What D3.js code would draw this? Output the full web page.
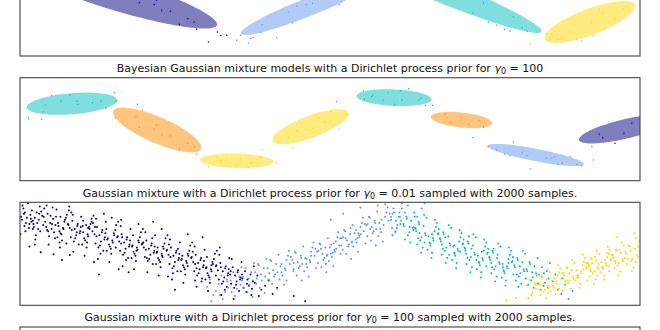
<!DOCTYPE html>
<html><head><meta charset="utf-8">
<script src="https://cdn.jsdelivr.net/npm/d3@7"></script>
<style>body{margin:0;background:#fff}svg{display:block}</style>
</head><body>
<script>
// ---------------- DATA ----------------
const colorCycle = ["navy", "#00bfbf", "cornflowerblue", "gold", "darkorange"];
const xDomain = [-6, 4 * Math.PI - 6];
const yDomain = [-5, 5];

// the noisy sine data set
const dataX = [-5.83,-5.56,-5.53,-5.49,-5.36,-5.17,-4.99,-4.84,-4.83,-4.53,-4.36,-4.26,-4.09,-4.05,-3.62,
 -4.07,-3.65,-3.52,-3.58,-3.28,-3.23,-3.13,-2.95,-2.77,-2.60,-2.47,-2.42,
 -2.18,-2.00,-1.93,-1.81,-1.61,-1.53,-1.37,-1.32,-1.28,-1.12,-1.09,-0.80,
 -0.56,-0.47,-0.39,-0.20,-0.07,0.05,0.18,0.30,0.47,0.62,
 0.42,0.96,0.98,1.13,1.15,1.36,1.46,1.59,1.71,1.74,1.88,2.09,2.13,2.22,2.36,
 2.61,2.65,2.73,2.95,3.09,3.30,3.40,
 3.18,3.49,3.66,3.82,3.93,4.00,4.18,4.28,4.34,4.67,4.78,4.84,4.90,4.99,5.15,5.28,5.38,5.62,
 5.59,5.74,5.81,6.06,6.24,6.40];
const dataY = [1.06,0.96,1.70,2.35,3.25,2.74,3.32,2.74,2.42,2.57,2.74,2.06,3.58,2.74,2.42,
 1.12,1.21,1.86,0.18,-0.01,0.41,-0.56,-0.66,-1.92,-1.37,-1.70,-2.41,
 -3.64,-2.67,-3.04,-2.99,-3.48,-2.99,-3.74,-3.31,-3.21,-2.70,-1.97,-3.23,
 -0.76,-1.80,-0.17,-0.01,0.09,1.12,0.70,1.77,0.00,1.40,
 2.67,3.71,2.93,3.17,3.32,2.81,3.56,2.42,3.71,2.83,3.92,2.83,3.00,2.30,2.33,
 1.45,1.12,0.67,1.06,0.50,0.80,0.18,
 -0.83,-1.70,-2.02,-2.41,-2.57,-1.21,-2.24,-2.57,-3.86,-2.83,-2.83,-2.64,-3.41,-3.31,-2.67,-3.41,-3.54,-2.99,
 -1.70,-0.50,-0.83,-1.37,-0.40,0.57];
// predicted component for each point
const labelsGamma001 = [0,0,0,0,0,0,0,0,0,0,0,0,0,0,0, 0,0,0,0,0,0,0,0,0,0,0,0,
 0,0,0,0,2,2,2,2,2,2,2,2, 2,2,2,2,2,2,2,2,2,2, 2,2,2,2,2,2,2,1,1,1,1,1,1,1,1,
 1,1,1,1,1,1,1, 1,1,1,1,1,1,1,1,3,3,3,3,3,3,3,3,3,3, 3,3,3,3,3,3];
const labelsGamma100 = [1,1,1,1,1,1,1,1,1,1,1,1,1,1,1, 4,4,4,4,4,4,4,4,4,4,4,4,
 3,3,3,3,3,3,3,3,3,3,3,3, 8,8,8,8,8,8,8,8,8,8, 6,6,6,6,6,6,6,6,6,6,6,6,6,6,6,
 9,9,9,9,9,9,9, 2,2,2,2,2,2,2,2,2,2,2,2,2,2,2,2,2,2,2, 5,5,5,5,5,5];

// Gaussian components: mean and conjugate semi-diameters (data units)
const ellComp001 = [0, 1, 2, 3];
const ellMeanX001 = [-4.075, 2.575, -0.203, 5.552];
const ellMeanY001 = [1.02, 1.214, -0.34, -1.699];
const ellP001 = [[2.067,-3.010],[1.911,-3.981],[1.231,2.621],[0.912,1.650]];
const ellQ001 = [[-0.094,-1.485],[0.588,0],[0.476,0],[0.093,-1.184]];

const ellComp100 = [1, 2, 3, 4, 5, 6, 8, 9];
const ellMeanX100 = [-4.946, 4.454, -1.608, -3.219, 6.262, 1.584, -0.112, 2.948];
const ellMeanY100 = [2.476, -2.505, -3.068, -0.078, 0.02, 3.058, 0.233, 0.893];
const ellP100 = [[0.918,0.359],[0.977,-0.903],[0.744,-0.083],[0.888,-1.845],[0.932,1.068],[0.760,-0.160],[0.766,1.379],[0.624,-0.320]];
const ellQ100 = [[0.016,-1.019],[-0.024,-0.592],[0,0.699],[-0.105,-1.155],[0.047,-0.913],[0,0.806],[0.079,-1.0],[-0.016,-0.723]];

// 2000-sample draw (gamma 0.01), representative points, flat [x,y,...]
const samplesNavy = [
-5.98,3.6,-5.81,2.9,-5.93,4.4,-5.77,3.1,-5.89,2.2,-5.96,3.3,-5.84,4.9,-5.79,3.8,-5.91,2.7,-5.86,3.5,-5.99,1.9,-5.76,4.2,-5.88,3.0,-5.82,2.5,-5.95,4.7,-5.78,3.4,-5.92,3.9,
-5.53,2.8,-5.70,3.5,-5.57,4.1,-5.63,2.4,-5.74,3.2,-5.60,4.6,-5.68,1.8,-5.55,3.7,-5.72,2.6,-5.65,3.0,-5.51,4.4,-5.62,3.3,-5.69,1.4,-5.59,2.2,-5.66,4.0,-5.52,3.6,-5.73,2.9,
-5.49,3.1,-5.36,2.4,-5.44,3.9,-5.28,2.8,-5.41,1.7,-5.33,3.4,-5.47,2.6,-5.26,4.3,-5.39,3.0,-5.31,2.1,-5.46,4.7,-5.27,3.6,-5.42,0.9,-5.35,2.9,-5.29,1.5,-5.38,3.7,-5.45,2.3,
-5.03,2.9,-5.20,2.2,-5.07,3.5,-5.13,2.5,-5.24,1.6,-5.10,3.1,-5.18,2.0,-5.05,3.8,-5.22,2.7,-5.15,1.3,-5.01,4.2,-5.12,2.4,-5.19,0.6,-5.09,3.3,-5.16,1.9,-5.02,2.8,-5.23,3.0,
-4.99,2.5,-4.86,1.8,-4.94,3.2,-4.78,2.2,-4.91,1.2,-4.83,2.9,-4.97,1.6,-4.76,3.6,-4.89,2.4,-4.81,0.9,-4.96,4.0,-4.79,2.0,-4.92,0.2,-4.84,2.7,-4.88,1.5,-4.77,2.6,-4.95,2.3,
-4.53,2.2,-4.70,1.5,-4.57,2.9,-4.63,1.9,-4.74,0.9,-4.60,2.6,-4.68,1.3,-4.55,3.4,-4.72,2.1,-4.65,0.6,-4.51,3.7,-4.62,1.7,-4.69,-0.2,-4.59,2.4,-4.66,2.8,-4.52,3.0,-4.73,2.7,-4.62,2.5,-4.55,3.1,
-4.49,1.9,-4.36,1.2,-4.44,2.6,-4.28,1.6,-4.41,0.6,-4.33,2.3,-4.47,1.0,-4.26,3.1,-4.39,1.8,-4.31,0.3,-4.46,3.4,-4.29,1.4,-4.42,-0.5,-4.34,2.1,-4.38,0.8,-4.27,2.0,-4.45,1.7,
-4.03,1.6,-4.20,0.9,-4.07,2.3,-4.13,1.3,-4.24,0.3,-4.10,2.0,-4.18,0.7,-4.05,2.8,-4.22,1.5,-4.15,0.0,-4.01,3.1,-4.12,1.1,-4.19,-0.8,-4.09,1.8,-4.16,0.5,-4.02,1.7,-4.23,1.4,
-3.99,1.2,-3.86,0.5,-3.94,1.9,-3.78,0.9,-3.91,-0.1,-3.83,1.6,-3.97,0.3,-3.76,2.4,-3.89,1.1,-3.81,-0.4,-3.96,2.7,-3.79,0.7,-3.92,-1.2,-3.84,1.4,-3.88,0.1,-3.77,1.3,-3.95,1.0,
-3.53,0.9,-3.70,0.2,-3.57,1.6,-3.63,0.6,-3.74,-0.4,-3.60,1.3,-3.68,0.0,-3.55,2.1,-3.72,0.8,-3.65,-0.7,-3.51,2.4,-3.62,0.4,-3.69,-1.5,-3.59,1.1,-3.66,-0.2,-3.52,1.0,-3.73,0.7,
-3.49,0.6,-3.36,-0.1,-3.44,1.3,-3.28,0.3,-3.41,-0.7,-3.33,1.0,-3.47,-0.3,-3.26,1.8,-3.39,0.5,-3.31,-1.0,-3.46,2.1,-3.29,0.1,-3.42,-1.8,-3.34,0.8,-3.38,-0.5,-3.27,0.7,-3.45,0.4,
-3.03,0.3,-3.20,-0.4,-3.07,1.0,-3.13,0.0,-3.24,-1.0,-3.10,0.7,-3.18,-0.6,-3.05,1.5,-3.22,0.2,-3.15,-1.3,-3.01,1.8,-3.12,-0.2,-3.19,-2.1,-3.09,0.5,-3.16,-0.8,-3.02,0.4,-3.23,0.1,
-2.99,-0.1,-2.86,-0.8,-2.94,0.6,-2.78,-0.4,-2.91,-1.4,-2.83,0.3,-2.97,-1.0,-2.76,1.1,-2.89,-0.2,-2.81,-1.7,-2.96,1.4,-2.79,-0.6,-2.92,-2.5,-2.84,0.1,-2.88,-1.2,-2.77,0.0,-2.95,-0.3,
-2.53,-0.4,-2.70,-1.1,-2.57,0.3,-2.63,-0.7,-2.74,-1.7,-2.60,0.0,-2.68,-1.3,-2.55,0.8,-2.72,-0.5,-2.65,-2.0,-2.51,1.1,-2.62,-0.9,-2.69,-2.8,-2.59,-0.2,-2.66,-1.5,-2.52,-0.3,-2.73,-0.6,
-2.49,-0.8,-2.36,-1.5,-2.44,-0.1,-2.28,-1.1,-2.41,-2.1,-2.33,-0.4,-2.47,-1.7,-2.26,0.4,-2.39,-0.9,-2.31,-2.4,-2.46,0.7,-2.29,-1.3,-2.42,-3.2,-2.34,-0.6,-2.38,-1.9,-2.27,-0.7,-2.45,-1.0,
-2.03,-1.2,-2.20,-1.9,-2.07,-0.5,-2.13,-1.5,-2.24,-2.5,-2.10,-0.8,-2.18,-2.1,-2.05,0.0,-2.22,-1.3,-2.15,-2.8,-2.01,0.3,-2.12,-1.7,-2.19,-3.6,-2.09,-1.0,-2.16,-2.3,-2.02,-1.1,-2.23,-1.4,
-1.99,-1.6,-1.86,-2.3,-1.94,-0.9,-1.78,-1.9,-1.91,-2.9,-1.83,-1.2,-1.97,-2.5,-1.76,-0.4,-1.89,-1.7,-1.81,-3.2,-1.96,-0.1,-1.79,-2.1,-1.92,-4.0,-1.84,-1.4,-1.88,-2.7,-1.77,-1.5,
-1.74,-2.0,-1.61,-2.7,-1.69,-1.3,-1.53,-2.3,-1.66,-3.3,-1.58,-1.6,-1.72,-2.9,-1.51,-0.8,-1.64,-2.1,-1.56,-3.6,-1.71,-0.5,-1.54,-2.5,-1.67,-4.4,-1.59,-1.8,
-1.49,-2.4,-1.36,-3.1,-1.44,-1.7,-1.28,-2.7,-1.41,-3.7,-1.33,-2.0,-1.47,-3.3,-1.26,-1.2,-1.39,-2.5,-1.31,-4.0,
-1.24,-2.8,-1.11,-3.5,-1.19,-2.1,-1.03,-3.1,-1.16,-4.1,-0.96,-2.6,-0.88,-3.9,-0.79,-3.3,
-0.45,-4.1,-0.22,-4.6,-2.86,-3.5,-4.4,-2.0,-5.81,0.7,-5.58,0.15,-5.32,-0.05,-4.99,-0.12,-3.3,3.1,-3.13,2.4,-3.95,3.3,-2.6,1.9,-5.15,-0.6,
-5.9,4.0,-5.74,2.4,-5.61,3.9,-5.43,2.2,-5.34,4.5,-5.18,3.6,-5.06,1.0,-4.93,3.8,-4.85,2.1,-4.72,3.2,-4.64,1.1,-4.48,2.6,-4.37,0.0,-4.25,2.4,-4.14,3.5,-4.06,0.6,
-3.93,1.6,-3.85,-0.6,-3.71,1.8,-3.64,0.3,-3.5,1.1,-3.43,-0.4,-3.32,1.5,-3.21,0.6,-3.11,-0.3,-2.98,0.9,-2.9,-1.9,-2.8,0.5,-2.71,-0.2,-2.6,-1.2,-2.5,0.2,-2.42,-1.4,
-2.32,-2.7,-2.21,-0.3,-2.12,-1.1,-2.03,-2.1,-1.93,-1.3,-1.85,-3.5,-1.73,-1.7,-1.62,-3.0,-1.5,-2.0,-1.4,-2.9,-1.3,-3.4,-5.7,0.9,-5.2,1.1,-4.5,-0.8,-3.8,-1.8,-3.0,-2.2,
-2.3,1.6,-3.6,2.9,-4.3,3.9,-5.0,4.6,-4.0,-1.5,-2.45,-2.6,-1.95,0.6];
const samplesCyan = [
1.52,3.3,1.64,2.5,1.58,4.0,1.71,2.9,1.55,1.8,1.68,3.6,1.61,2.2,1.74,4.4,
1.77,2.9,1.89,2.1,1.83,3.6,1.96,2.5,1.8,1.4,1.93,3.2,1.86,1.8,1.99,4.0,1.78,2.7,1.91,1.1,1.84,3.4,1.97,2.3,
2.02,2.4,2.14,1.6,2.08,3.1,2.21,2.0,2.05,0.9,2.18,2.7,2.11,1.3,2.24,3.5,2.03,2.2,2.16,0.6,2.09,2.9,2.22,1.8,2.07,1.5,2.19,3.8,2.13,0.1,2.01,2.5,
2.47,1.9,2.30,1.1,2.43,2.6,2.37,1.5,2.26,0.4,2.40,2.2,2.32,0.8,2.45,3.0,2.28,1.7,2.35,0.1,2.49,2.4,2.38,1.3,2.31,1.0,2.41,3.3,2.34,-0.4,2.48,2.0,
2.52,1.4,2.64,0.6,2.58,2.1,2.71,1.0,2.55,-0.1,2.68,1.7,2.61,0.3,2.74,2.5,2.53,1.2,2.66,-0.4,2.59,1.9,2.72,0.8,2.57,0.5,2.69,2.8,2.63,-0.9,2.51,1.5,
2.97,0.9,2.80,0.1,2.93,1.6,2.87,0.5,2.76,-0.6,2.90,1.2,2.82,-0.2,2.95,2.0,2.78,0.7,2.85,-0.9,2.99,1.4,2.88,0.3,2.81,0.0,2.91,2.3,2.84,-1.4,2.98,1.0,
3.02,0.5,3.14,-0.3,3.08,1.2,3.21,0.1,3.05,-1.0,3.18,0.8,3.11,-0.6,3.24,1.6,3.03,0.3,3.16,-1.3,3.09,1.0,3.22,-0.1,3.07,-0.4,3.19,1.9,3.13,-1.8,3.01,0.6,
3.47,0.0,3.30,-0.8,3.43,0.7,3.37,-0.4,3.26,-1.5,3.40,0.3,3.32,-1.1,3.45,1.1,3.28,-0.2,3.35,-1.8,3.49,0.5,3.38,-0.6,3.31,-0.9,3.41,1.4,3.34,-2.3,3.48,0.1,
3.52,-0.4,3.64,-1.2,3.58,0.3,3.71,-0.8,3.55,-1.9,3.68,-0.1,3.61,-1.5,3.74,0.7,3.53,-0.6,3.66,-2.2,3.59,0.1,3.72,-1.0,3.57,-1.3,3.69,1.0,3.63,-2.7,3.51,-0.3,
3.97,-0.8,3.80,-1.6,3.93,-0.1,3.87,-1.2,3.76,-2.3,3.90,-0.5,3.82,-1.9,3.95,0.3,3.78,-1.0,3.85,-2.6,3.99,-0.3,3.88,-1.4,3.81,-1.7,3.91,0.6,3.84,-3.1,3.98,-0.7,
4.02,-1.1,4.14,-1.9,4.08,-0.4,4.21,-1.5,4.05,-2.6,4.18,-0.8,4.11,-2.2,4.24,0.0,4.03,-1.3,4.16,-2.9,4.09,-0.6,4.22,-1.7,4.07,-2.0,4.19,0.3,
4.27,-1.5,4.39,-2.3,4.33,-0.8,4.46,-1.9,4.3,-3.0,4.43,-1.2,4.36,-2.6,4.49,-0.4,4.28,-1.7,4.41,-3.3,4.34,-1.0,4.47,-2.1,
4.52,-2.0,4.64,-2.8,4.58,-1.3,4.71,-2.4,4.55,-3.5,4.68,-1.7,4.61,-3.1,4.74,-0.9,4.57,-2.2,
4.8,-2.7,4.9,-3.5,4.85,-2.0,4.97,-3.9,5.05,-3.0,5.12,-4.4,5.2,-3.6,5.0,-2.4,
1.62,3.2,1.9,2.6,2.1,2.0,2.2,1.1,2.35,1.9,2.55,0.9,2.62,1.6,2.8,0.8,2.92,0.2,3.04,0.0,3.15,0.5,3.25,-0.6,3.36,0.2,3.45,-1.2,3.55,-0.9,
3.67,-0.4,3.79,-1.3,3.9,-0.9,4.0,-2.0,4.13,-1.2,4.25,-2.4,4.38,-1.8,4.5,-2.9,4.62,-1.9,2.0,3.6,2.7,-0.1,3.1,1.7,3.6,0.5,4.1,-3.2,4.7,-3.3];
const samplesCornflower = [
-2.21,-3.2,-2.08,-4.0,-2.15,-2.5,-2.03,-3.6,-2.12,-4.6,
-1.97,-2.9,-1.84,-3.7,-1.92,-2.1,-1.78,-3.3,-1.89,-4.4,-1.81,-2.5,-1.95,-4.0,
-1.73,-2.6,-1.6,-3.4,-1.68,-1.8,-1.53,-3.0,-1.64,-4.1,-1.56,-2.2,-1.71,-3.7,-1.51,-1.3,
-1.48,-2.2,-1.35,-3.0,-1.43,-1.4,-1.28,-2.6,-1.39,-3.7,-1.31,-1.8,-1.46,-3.3,-1.26,-0.9,-1.37,-2.4,-1.29,-4.2,
-1.23,-1.8,-1.1,-2.6,-1.18,-1.0,-1.03,-2.2,-1.14,-3.3,-1.06,-1.4,-1.21,-2.9,-1.01,-0.5,-1.12,-2.0,-1.04,-3.8,-1.16,-1.1,
-0.98,-1.4,-0.85,-2.2,-0.93,-0.6,-0.78,-1.8,-0.89,-2.9,-0.81,-1.0,-0.96,-2.5,-0.76,-0.1,-0.87,-1.6,-0.79,-3.4,-0.91,-0.7,-0.83,-2.0,
-0.53,-1.0,-0.70,-1.8,-0.57,-0.2,-0.63,-1.4,-0.74,-2.5,-0.60,-0.6,-0.68,-2.1,-0.55,0.3,-0.72,-1.2,-0.65,-3.0,-0.51,-0.3,-0.62,-1.6,
-0.48,-0.6,-0.35,-1.4,-0.43,0.2,-0.28,-1.0,-0.39,-2.1,-0.31,-0.2,-0.46,-1.7,-0.26,0.7,-0.37,-0.8,-0.29,-2.6,-0.41,0.1,-0.33,-1.2,-0.45,-0.9,
-0.03,-0.2,-0.20,-1.0,-0.07,0.6,-0.13,-0.6,-0.24,-1.7,-0.10,0.2,-0.18,-1.3,-0.05,1.1,-0.22,-0.4,-0.15,-2.2,-0.01,0.5,-0.12,-0.8,-0.19,-0.5,
0.02,0.2,0.15,-0.6,0.07,1.0,0.22,-0.2,0.11,-1.3,0.19,0.6,0.04,-0.9,0.24,1.5,0.13,0.0,0.21,-1.8,0.09,0.9,0.17,-0.4,0.05,0.3,0.23,-0.1,
0.47,0.8,0.30,0.0,0.43,1.6,0.37,0.4,0.26,-0.7,0.40,1.2,0.32,-0.3,0.45,2.1,0.28,0.6,0.35,-1.2,0.49,1.5,0.38,0.2,0.31,0.9,0.41,0.5,0.34,0.1,
0.52,1.5,0.65,0.7,0.57,2.3,0.72,1.1,0.61,0.0,0.69,1.9,0.54,0.4,0.74,2.8,0.63,1.3,0.71,-0.5,0.59,2.2,0.67,0.9,0.55,1.6,0.73,1.2,0.51,0.8,
0.97,2.2,0.80,1.4,0.93,3.0,0.87,1.8,0.76,0.7,0.90,2.6,0.82,1.1,0.95,3.5,0.78,2.0,0.85,0.2,0.99,2.9,0.88,1.6,0.81,2.3,0.91,1.9,0.84,1.5,
1.02,2.8,1.15,2.0,1.07,3.6,1.22,2.4,1.11,1.3,1.19,3.2,1.04,1.7,1.24,4.1,1.13,2.6,1.21,0.8,1.09,3.5,1.17,2.2,1.05,2.9,
1.47,3.2,1.30,2.4,1.43,4.0,1.37,2.8,1.26,1.7,1.40,3.6,1.32,2.1,1.45,4.5,1.28,3.0,1.35,1.2,1.49,3.9,
1.52,3.6,1.65,2.8,1.57,4.4,1.72,3.2,1.61,2.1,1.69,4.0,1.54,2.5,1.74,4.9,
1.8,4.0,1.93,3.2,1.86,4.7,2.05,3.6,1.98,2.6,2.14,4.4,2.2,4.9,
1.25,4.7,1.4,4.8,0.9,4.5,0.55,3.9,0.3,3.3,
-1.8,-2.7,-1.5,-2.6,-1.2,-2.4,-0.95,-1.9,-0.7,-1.0,-0.45,-1.5,-0.3,-0.4,-0.1,-0.2,0.1,0.5,0.2,-1.0,0.36,1.0,0.5,0.0,0.6,1.5,0.7,2.5,0.86,2.0,
1.0,1.0,1.1,2.4,1.2,3.0,1.33,3.3,1.55,3.9,1.7,3.6,-0.6,-2.6,0.0,-1.4];
const samplesGold = [
4.27,-3.1,4.39,-3.8,4.33,-2.5,4.46,-3.4,4.3,-4.3,4.43,-2.8,4.36,-4.0,4.49,-2.1,
4.52,-2.8,4.64,-3.5,4.58,-2.2,4.71,-3.1,4.55,-4.0,4.68,-2.5,4.61,-3.7,4.74,-1.8,4.53,-3.0,4.66,-4.3,4.59,-2.3,4.72,-3.3,4.57,-3.5,4.69,-1.5,
4.97,-2.4,4.80,-3.1,4.93,-1.8,4.87,-2.7,4.76,-3.6,4.90,-2.1,4.82,-3.3,4.95,-1.4,4.78,-2.6,4.85,-3.9,4.99,-1.9,4.88,-2.9,4.81,-3.1,4.91,-1.1,
5.02,-1.9,5.14,-2.6,5.08,-1.3,5.21,-2.2,5.05,-3.1,5.18,-1.6,5.11,-2.8,5.24,-0.9,5.03,-2.1,5.16,-3.4,5.09,-1.4,5.22,-2.4,5.07,-2.6,5.19,-0.6,
5.47,-1.4,5.30,-2.1,5.43,-0.8,5.37,-1.7,5.26,-2.6,5.40,-1.1,5.32,-2.3,5.45,-0.4,5.28,-1.6,5.35,-2.9,5.49,-0.9,5.38,-1.9,5.31,-2.1,5.41,-0.1,5.34,-3.3,5.48,-1.3,
5.52,-1.0,5.64,-1.7,5.58,-0.4,5.71,-1.3,5.55,-2.2,5.68,-0.7,5.61,-1.9,5.74,0.0,5.53,-1.2,5.66,-2.5,5.59,-0.5,5.72,-1.5,5.57,-1.7,5.69,0.3,5.63,-2.9,5.51,-0.9,5.65,-0.3,5.7,-2.1,
5.97,-0.6,5.80,-1.3,5.93,0.0,5.87,-0.9,5.76,-1.8,5.90,-0.3,5.82,-1.5,5.95,0.4,5.78,-0.8,5.85,-2.1,5.99,-0.1,5.88,-1.1,5.81,-1.3,5.91,0.7,5.84,-2.5,5.98,-0.5,5.89,0.1,5.94,-1.7,
6.02,-0.2,6.14,-0.9,6.08,0.4,6.21,-0.5,6.05,-1.4,6.18,0.1,6.11,-1.1,6.24,0.8,6.03,-0.4,6.16,-1.7,6.09,0.3,6.22,-0.7,6.07,-0.9,6.19,1.1,6.13,-2.1,6.01,-0.1,
6.27,0.2,6.41,-0.5,6.34,0.8,6.5,-0.1,6.3,-1.0,6.46,0.5,6.38,-0.7,6.55,1.2,6.28,0.0,6.44,-1.3,6.36,0.7,6.52,-0.3,6.32,-0.5,6.48,1.5,6.4,-1.7,6.56,0.3,
3.86,-4.5,4.05,-4.3,6.1,1.6,6.45,2.0,
4.45,-3.0,4.62,-2.9,4.7,-3.8,4.84,-2.4,4.92,-3.4,5.04,-2.7,5.13,-1.9,5.29,-2.3,5.42,-1.5,5.56,-1.5,5.6,-0.9,5.73,-1.0,5.86,-0.6,5.92,-1.2,
6.06,-0.7,6.15,0.4,6.26,-0.4,6.37,0.3,6.48,-0.8,6.53,0.7,5.0,-3.6,5.5,-2.6];

const titleTexts = [
  ["Bayesian Gaussian mixture models with a Dirichlet process prior for ", "100", ""],
  ["Gaussian mixture with a Dirichlet process prior for ", "0.01", " sampled with 2000 samples."],
  ["Gaussian mixture with a Dirichlet process prior for ", "100", " sampled with 2000 samples."]
];

// ---------------- LAYOUT ----------------
const W = 660, H = 330;
const plotLeft = 20, plotRight = 640, plotH = 103;
const panelTops = [-47, 77.7, 202.3, 327];
const titleBaselines = [72, 196.5, 321];

const svg = d3.select("body").append("svg").attr("width", W).attr("height", H)
  .style("font-family", "'DejaVu Sans', sans-serif");
svg.append("rect").attr("width", W).attr("height", H).attr("fill", "#fff");

const x = d3.scaleLinear().domain(xDomain).range([plotLeft, plotRight]);
const yFor = top => d3.scaleLinear().domain(yDomain).range([top + plotH, top]);
const defs = svg.append("defs");
panelTops.forEach((t, i) => {
  defs.append("clipPath").attr("id", "clip" + i).append("rect")
    .attr("x", plotLeft).attr("y", t).attr("width", plotRight - plotLeft).attr("height", plotH);
});

const lineGen = d3.line().curve(d3.curveLinearClosed);
function ellipsePath(cx, cy, p, q, y) {
  const pts = [];
  for (let k = 0; k < 120; k++) {
    const t = 2 * Math.PI * k / 120;
    pts.push([x(cx + p[0] * Math.cos(t) + q[0] * Math.sin(t)),
              y(cy + p[1] * Math.cos(t) + q[1] * Math.sin(t))]);
  }
  return lineGen(pts);
}

function drawMixture(panel, labels, comps, mx, my, P, Q) {
  const y = yFor(panelTops[panel]);
  const g = svg.append("g").attr("clip-path", `url(#clip${panel})`);
  const order = comps.map((c, i) => i).sort((a, b) => comps[a] - comps[b]);
  order.forEach(i => {
    const comp = comps[i];
    const col = colorCycle[comp % 5];
    const idx = d3.range(dataX.length).filter(j => labels[j] === comp);
    g.selectAll(null).data(idx).join("circle")
      .attr("cx", j => x(dataX[j])).attr("cy", j => y(dataY[j]))
      .attr("r", 0.75).attr("fill", col);
    g.append("path").attr("d", ellipsePath(mx[i], my[i], P[i], Q[i], y))
      .attr("fill", col).attr("fill-opacity", 0.5);
  });
}

drawMixture(0, labelsGamma001, ellComp001, ellMeanX001, ellMeanY001, ellP001, ellQ001);
drawMixture(1, labelsGamma100, ellComp100, ellMeanX100, ellMeanY100, ellP100, ellQ100);

// samples panel
(function () {
  const y = yFor(panelTops[2]);
  const g = svg.append("g").attr("clip-path", "url(#clip2)");
  [[samplesNavy, 0], [samplesCyan, 1], [samplesCornflower, 2], [samplesGold, 3]].forEach(([arr, c]) => {
    const pts = d3.range(arr.length / 2).map(k => [arr[2 * k], arr[2 * k + 1]]);
    g.selectAll(null).data(pts).join("circle")
      .attr("cx", d => x(d[0])).attr("cy", d => y(d[1]))
      .attr("r", 1.0).attr("fill", colorCycle[c]);
  });
})();

// frames
panelTops.forEach(t => {
  svg.append("rect").attr("x", plotLeft).attr("y", t).attr("width", plotRight - plotLeft)
    .attr("height", plotH).attr("fill", "none").attr("stroke", "#444").attr("stroke-width", 1.1);
});

// titles
titleTexts.forEach((tt, i) => {
  const t = svg.append("text").attr("x", W / 2).attr("y", titleBaselines[i])
    .attr("text-anchor", "middle").attr("font-size", 11).attr("fill", "#111");
  t.append("tspan").text(tt[0]);
  t.append("tspan").attr("font-style", "italic").text("γ");
  t.append("tspan").attr("font-size", 8).attr("dy", 2).text("0");
  t.append("tspan").attr("dy", -2).text(" = " + tt[1] + tt[2]);
});
</script>
</body></html>
